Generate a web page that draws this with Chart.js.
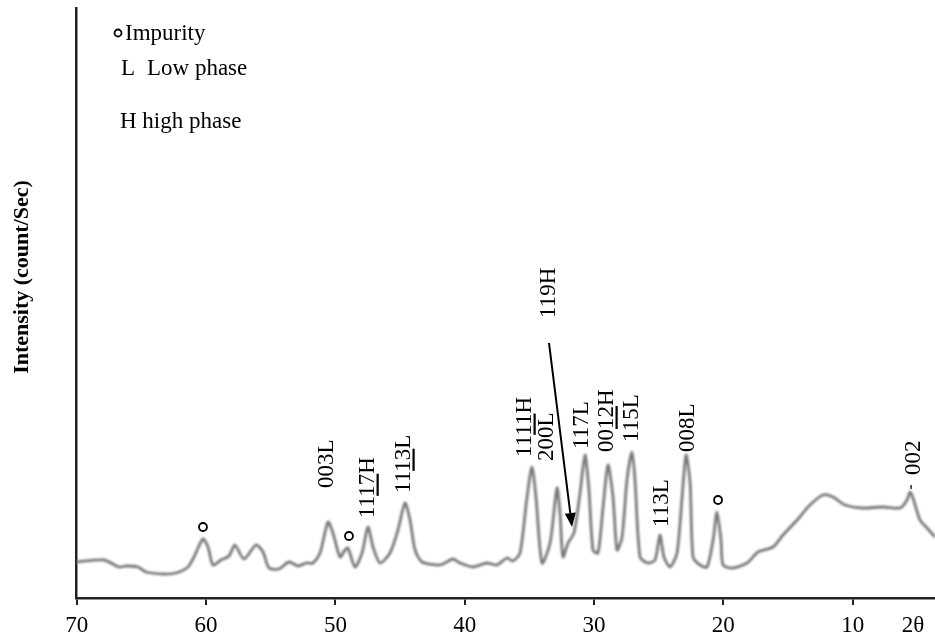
<!DOCTYPE html>
<html>
<head>
<meta charset="utf-8">
<title>XRD pattern</title>
<script src="https://cdn.jsdelivr.net/npm/chart.js@4.4.1/dist/chart.umd.min.js"></script>
<style>
  html, body { margin: 0; padding: 0; background: #fff; }
  #wrap { width: 935px; height: 644px; }
</style>
</head>
<body>
<div id="wrap"><canvas id="xrd" width="935" height="644"></canvas></div>
<script>
// Diffraction angle (2θ, degrees) and measured intensity (counts/s)
const twoTheta = [70.06, 67.9, 66.74, 66.2, 65.27, 64.65, 63.26, 62.33, 61.4, 60.94, 60.24, 59.85, 59.47, 58.85, 58.23, 57.77, 57.07, 56.14, 55.6, 55.13, 54.36, 53.59, 52.89, 52.27, 51.73, 51.19, 50.57, 50.19, 49.64, 49.26, 49.03, 48.48, 47.94, 47.48, 47.09, 46.55, 45.78, 45.16, 44.62, 44.23, 43.84, 43.30, 42.14, 41.68, 40.90, 40.36, 39.36, 38.28, 37.50, 36.73, 36.27, 35.72, 35.18, 34.80, 34.49, 34.02, 33.40, 32.86, 32.63, 32.40, 32.01, 31.55, 31.08, 30.70, 30.39, 30.08, 29.69, 29.30, 28.92, 28.53, 28.22, 27.83, 27.45, 27.06, 26.83, 26.44, 25.82, 25.28, 24.90, 24.59, 24.12, 23.58, 23.19, 22.88, 22.57, 22.34, 21.80, 21.26, 20.79, 20.49, 20.18, 20.02, 19.25, 18.17, 17.32, 16.16, 15.38, 14.30, 13.30, 12.29, 11.52, 10.59, 9.20, 7.65, 6.33, 5.79, 5.56, 5.33, 4.79, 4.24, 3.63];
const intensity = [36, 38, 31, 32, 31, 26, 24, 25, 31, 41, 59, 51, 33, 38, 42, 53, 39, 53, 46, 30, 29, 36, 32, 35, 35, 45, 76, 65, 41, 48, 50, 31, 45, 71, 51, 35, 45, 68, 95, 78, 48, 36, 33, 34, 39, 35, 31, 35, 33, 40, 37, 45, 101, 131, 101, 35, 55, 110, 85, 41, 55, 65, 105, 143, 108, 48, 45, 91, 133, 101, 48, 61, 118, 146, 118, 41, 35, 38, 63, 41, 31, 45, 101, 143, 115, 41, 33, 31, 58, 86, 58, 33, 30, 35, 46, 51, 63, 78, 93, 103, 101, 93, 90, 91, 90, 98, 106, 100, 78, 70, 61];

// Axis ticks
const tickValues = [70, 60, 50, 40, 30, 20, 10];
const unitTick = 5.33;
const unitLabel = '2θ';
const yTitle = 'Intensity (count/Sec)';

// Reflection labels (hkl + phase), their 2θ and the intensity level where the text starts
const peakText = ['003L', '1117H', '1113L', '1111H', '200L', '117L', '0012H', '115L', '113L', '008L', '002'];
const peakTheta = [50.80, 47.63, 44.85, 35.49, 33.79, 31.08, 29.15, 27.21, 24.90, 22.88, 5.41];
const peakLevel = [110, 80, 105, 141, 137, 149, 146, 156, 71, 146, 123];
// Characters [from, to) carrying a bar (negative index)
const peakBar = [null, [2, 4], [2, 4], [2, 4], null, null, [2, 4], null, null, null, null];

// Shoulder reflection pointed at with an arrow
const arrowText = '119H';
const arrowTextTheta = 33.64;
const arrowTextLevel = 280;
const arrowFrom = [33.48, 255];
const arrowTo = [31.70, 71];

// Impurity reflections
const impurityTheta = [60.24, 48.95, 20.41];
const impurityLevel = [71, 62, 98];

// Key
const keyLines = [
  { mark: 'circle', label: 'Impurity' },
  { mark: 'L', label: 'Low phase' },
  { mark: 'H', label: 'high phase' }
];

const SERIF = '"Liberation Serif", "Times New Roman", serif';

const points = twoTheta.map((t, i) => ({ x: t, y: intensity[i] }));

function verticalLabel(ctx, text, x, yStart, bar) {
  ctx.save();
  ctx.translate(x, yStart);
  ctx.rotate(-Math.PI / 2);
  ctx.font = '23px ' + SERIF;
  ctx.fillStyle = '#000';
  ctx.textAlign = 'left';
  ctx.textBaseline = 'alphabetic';
  const base = 8;
  ctx.fillText(text, 0, base);
  if (bar) {
    const a = ctx.measureText(text.slice(0, bar[0])).width;
    const b = ctx.measureText(text.slice(0, bar[1])).width;
    ctx.fillRect(a, base + 2.5, b - a, 2.2);
  }
  ctx.restore();
}

function ring(ctx, x, y, r) {
  ctx.save();
  ctx.beginPath();
  ctx.arc(x, y, r, 0, Math.PI * 2);
  ctx.lineWidth = 1.8;
  ctx.strokeStyle = '#000';
  ctx.stroke();
  ctx.restore();
}

const softLine = {
  id: 'softLine',
  beforeDatasetsDraw(chart) {
    chart.ctx.save();
    chart.ctx.filter = 'blur(0.8px)';
  },
  afterDatasetsDraw(chart) {
    chart.ctx.restore();
  }
};

const annotations = {
  id: 'annotations',
  afterDraw(chart) {
    const ctx = chart.ctx;
    const xs = chart.scales.x, ys = chart.scales.y;

    // y-axis title
    ctx.save();
    ctx.translate(22, 277);
    ctx.rotate(-Math.PI / 2);
    ctx.font = 'bold 22px ' + SERIF;
    ctx.fillStyle = '#000';
    ctx.textAlign = 'center';
    ctx.textBaseline = 'middle';
    ctx.fillText(yTitle, 0, 0);
    ctx.restore();

    // key
    ctx.save();
    ctx.font = '23px ' + SERIF;
    ctx.fillStyle = '#000';
    ctx.textBaseline = 'alphabetic';
    ring(ctx, 118, 33, 3.5);
    ctx.fillText(keyLines[0].label, 125, 40);
    ctx.fillText(keyLines[1].mark, 121, 75);
    ctx.fillText(keyLines[1].label, 147, 75);
    ctx.fillText(keyLines[2].mark + ' ' + keyLines[2].label, 120, 128);
    ctx.restore();

    // reflection labels
    peakText.forEach((t, i) => {
      verticalLabel(ctx, t, xs.getPixelForValue(peakTheta[i]), ys.getPixelForValue(peakLevel[i]), peakBar[i]);
    });

    // small mark under the 002 label
    ctx.save();
    ctx.strokeStyle = '#222';
    ctx.lineWidth = 1.5;
    const mx = xs.getPixelForValue(5.48);
    ctx.beginPath();
    ctx.moveTo(mx, ys.getPixelForValue(113));
    ctx.lineTo(mx, ys.getPixelForValue(109));
    ctx.stroke();
    ctx.restore();

    // arrowed label
    verticalLabel(ctx, arrowText, xs.getPixelForValue(arrowTextTheta), ys.getPixelForValue(arrowTextLevel), null);
    const x0 = xs.getPixelForValue(arrowFrom[0]), y0 = ys.getPixelForValue(arrowFrom[1]);
    const x1 = xs.getPixelForValue(arrowTo[0]), y1 = ys.getPixelForValue(arrowTo[1]);
    const ang = Math.atan2(y1 - y0, x1 - x0);
    const head = 14, half = 5.5;
    const bx = x1 - head * Math.cos(ang), by = y1 - head * Math.sin(ang);
    ctx.save();
    ctx.strokeStyle = '#000';
    ctx.fillStyle = '#000';
    ctx.lineWidth = 2;
    ctx.beginPath();
    ctx.moveTo(x0, y0);
    ctx.lineTo(bx, by);
    ctx.stroke();
    ctx.beginPath();
    ctx.moveTo(x1, y1);
    ctx.lineTo(bx + half * Math.sin(ang), by - half * Math.cos(ang));
    ctx.lineTo(bx - half * Math.sin(ang), by + half * Math.cos(ang));
    ctx.closePath();
    ctx.fill();
    ctx.restore();

    // impurity rings
    impurityTheta.forEach((t, i) => {
      ring(ctx, xs.getPixelForValue(t), ys.getPixelForValue(impurityLevel[i]), 4);
    });
  }
};

new Chart(document.getElementById('xrd'), {
  type: 'line',
  data: {
    datasets: [{
      data: points,
      borderColor: '#787878',
      borderWidth: 2.8,
      pointRadius: 0,
      tension: 0.25,
      fill: false
    }]
  },
  options: {
    responsive: false,
    animation: false,
    devicePixelRatio: 1,
    layout: { padding: { top: 8, right: 0, bottom: 0, left: 0 } },
    plugins: { legend: { display: false }, tooltip: { enabled: false } },
    scales: {
      x: {
        type: 'linear',
        reverse: true,
        min: 3.63,
        max: 70.06,
        afterBuildTicks(scale) {
          scale.ticks = tickValues.concat([unitTick]).map(v => ({ value: v }));
        },
        afterFit(scale) { scale.height = 46; },
        ticks: {
          autoSkip: false,
          maxRotation: 0,
          padding: 7,
          color: '#000',
          font: { family: SERIF, size: 23 },
          callback: v => (v === unitTick ? unitLabel : String(v))
        },
        grid: {
          display: true,
          drawOnChartArea: false,
          drawTicks: true,
          tickLength: 7,
          lineWidth: 2,
          color: c => (c.tick && c.tick.value === unitTick ? 'rgba(0,0,0,0)' : '#222')
        },
        border: { display: true, color: '#222', width: 2.5 }
      },
      y: {
        type: 'linear',
        min: 0,
        max: 590,
        afterFit(scale) { scale.width = 76; },
        ticks: { display: false },
        grid: { display: false },
        border: { display: true, color: '#222', width: 2.5 }
      }
    }
  },
  plugins: [softLine, annotations]
});
</script>
</body>
</html>
